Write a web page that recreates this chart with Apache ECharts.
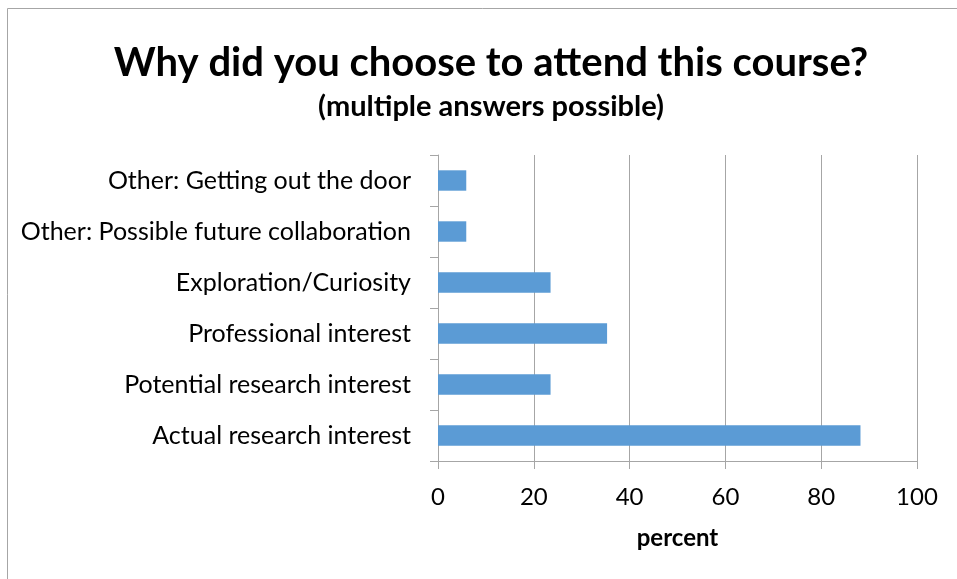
<!DOCTYPE html>
<html>
<head>
<meta charset="utf-8">
<script src="https://cdn.jsdelivr.net/npm/echarts@6/dist/echarts.min.js"></script>
<style>html,body{margin:0;padding:0;background:#fff}#c{width:957px;height:579px}</style>
</head>
<body>
<div id="c"></div>
<script>
const categories = ["Other: Getting out the door", "Other: Possible future collaboration", "Exploration/Curiosity", "Professional interest", "Potential research interest", "Actual research interest"];
const values = [5.9, 5.9, 23.5, 35.3, 23.5, 88.2];
const xTicks = [0, 20, 40, 60, 80, 100];
const FONT = 'Lato';
const gray = '#a6a6a6';
const chart = echarts.init(document.getElementById('c'));
chart.setOption({
  animation: false,
  textStyle: { fontFamily: FONT },
  graphic: [{ type: 'rect', shape: { x: 7.5, y: 8.5, width: 1200, height: 1200 }, style: { fill: 'none', stroke: gray, lineWidth: 1 } }],
  title: [
    { text: 'Why did you choose to attend this course?', left: 486, top: 38, textAlign: 'center',
      textStyle: { fontFamily: FONT, fontWeight: 'bold', fontSize: 40, color: '#000' } },
    { text: '(multiple answers possible)', left: 486, top: 87, textAlign: 'center',
      textStyle: { fontFamily: FONT, fontWeight: 'bold', fontSize: 29, color: '#000' } }
  ],
  grid: { left: 438, right: 40, top: 155, bottom: 118, containLabel: false },
  xAxis: {
    type: 'value', min: xTicks[0], max: xTicks[xTicks.length - 1], interval: 20,
    name: 'percent', nameLocation: 'middle', nameGap: 65,
    nameTextStyle: { fontFamily: FONT, fontWeight: 'bold', fontSize: 24, color: '#000' },
    axisLine: { show: true, lineStyle: { color: gray, width: 1 } },
    axisTick: { show: true, length: 8, lineStyle: { color: gray } },
    splitLine: { show: true, lineStyle: { color: gray, width: 1 } },
    axisLabel: { margin: 24, fontSize: 24, color: '#000', fontFamily: FONT }
  },
  yAxis: {
    type: 'category', data: categories, inverse: true,
    axisLine: { show: true, lineStyle: { color: gray, width: 1 } },
    axisTick: { show: true, length: 8, lineStyle: { color: gray } },
    splitLine: { show: false },
    axisLabel: { margin: 27, fontSize: 25, color: '#000', fontFamily: FONT }
  },
  series: [{ type: 'bar', data: values, barCategoryGap: '60%', itemStyle: { color: '#5b9bd5' } }]
});
</script>
</body>
</html>
